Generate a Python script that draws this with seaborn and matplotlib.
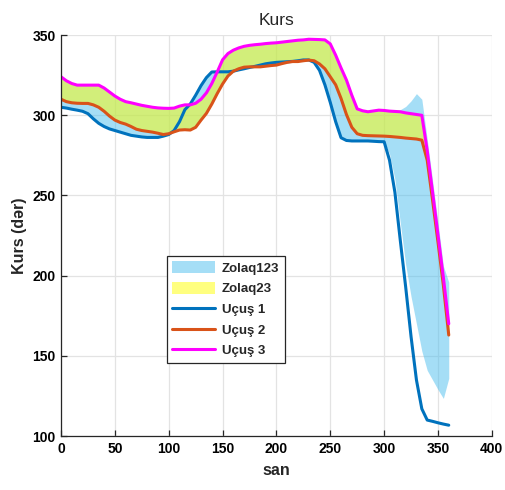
import numpy as np
import pandas as pd
import seaborn as sns
import matplotlib.pyplot as plt
from matplotlib.patches import Patch
from matplotlib.lines import Line2D

# sample times (san)
san = np.arange(0, 361, 5)

ucus1 = [305, 304.5, 303.8, 303.2, 302.5, 301, 297.8, 295, 293, 291.5,
         290.5, 289.5, 288.5, 287.5, 287, 286.5, 286.2, 286.2, 286.2, 287,
         288, 290.5, 296, 303.5, 307, 312.5, 318.5, 323.5, 327, 327.1,
         327.1, 327.1, 327.5, 328.3, 329, 329.8, 330.5, 331.3, 332.1, 332.6,
         333, 333.2, 333.4, 333.6, 334, 334.5, 334.5, 333, 328, 319,
         308, 296, 286, 284.3, 284, 284, 284, 284, 283.8, 283.6,
         283.5, 272, 252, 222, 193, 162, 135, 117, 110, 109.2,
         108.3, 107.5, 106.8]

ucus2 = [310, 308.5, 307.8, 307.5, 307.4, 307.4, 306.5, 305, 302.5, 299.5,
         297, 295.5, 294.5, 293, 291.3, 290.5, 290, 289.5, 288.8, 288,
         288.5, 289.7, 290.8, 291, 290.8, 292.5, 297, 301.2, 307, 313.5,
         319.5, 324.5, 327.5, 329, 330, 330.2, 330.2, 330.2, 330.6, 331,
         331.3, 332.2, 333, 333.5, 333.5, 334, 334.4, 334, 332, 329,
         324, 319, 310.5, 300.5, 292.5, 288.5, 287.5, 287.3, 287.2, 287.1,
         287, 286.8, 286.5, 286.2, 285.8, 285.5, 285.2, 284.5, 272, 247,
         221, 194, 163]

ucus3 = [324, 321.5, 319.8, 318.8, 318.8, 318.8, 318.8, 318.8, 317, 314.5,
         312, 310, 308.5, 307.8, 307, 306.2, 305.6, 305, 304.6, 304.4,
         304.3, 304.5, 305.7, 306.5, 306.5, 307.5, 310, 314, 319.8, 327,
         334.6, 338.5, 340.6, 342, 343, 343.6, 344, 344.3, 344.7, 345,
         345.2, 345.6, 346, 346.4, 346.8, 347, 347.4, 347.3, 347.2, 347,
         344.5, 337.5, 329.5, 322, 312.5, 304, 302.8, 302.2, 302.7, 303.2,
         303, 302.6, 302.4, 302.2, 301.5, 301, 300.5, 300, 278, 252,
         225.5, 199, 170]

# band 1-2-3 at the end (x >= 305) departs from min/max of the flights
tail_san = np.arange(305, 361, 5)
tail_lo = [276, 260, 233, 207, 187, 170, 153, 141, 135, 129, 123.5, 136]
tail_hi = [302.6, 302.4, 303.5, 305.5, 309, 313.5, 310, 285, 259, 233, 206, 196]

df = pd.DataFrame({"san": san, "u1": ucus1, "u2": ucus2, "u3": ucus3})
band_lo = np.minimum.reduce([df.u1, df.u2, df.u3])
band_hi = np.maximum.reduce([df.u1, df.u2, df.u3])
tail = df.san >= 305
band_lo[tail.values] = tail_lo
band_hi[tail.values] = tail_hi

sns.set_style("whitegrid")
plt.rcParams['font.family'] = ['Liberation Sans', 'DejaVu Sans']

c1, c2, c3 = '#0072BD', '#D95319', '#FF00FF'
cb = '#4DBEEE'
cy = '#FFFF00'

fig = plt.figure(figsize=(5.06, 4.90), dpi=100)
ax = fig.add_axes([0.1206, 0.110, 0.8514, 0.8184])

ax.fill_between(df.san, band_lo, band_hi, color=cb, alpha=0.5, linewidth=0)
ax.fill_between(df.san, df.u2, df.u3, color=cy, alpha=0.5, linewidth=0)
sns.lineplot(data=df, x="san", y="u1", color=c1, linewidth=2.2, ax=ax)
sns.lineplot(data=df, x="san", y="u2", color=c2, linewidth=2.2, ax=ax)
sns.lineplot(data=df, x="san", y="u3", color=c3, linewidth=2.2, ax=ax)

ax.set_xlim(0, 400)
ax.set_ylim(100, 350)
ax.set_xticks(range(0, 401, 50))
ax.set_yticks(range(100, 351, 50))
ax.grid(True, color='#e3e3e3', linewidth=0.9)
for s in ['top', 'right']:
    ax.spines[s].set_visible(False)
for s in ['left', 'bottom']:
    ax.spines[s].set_color('#262626')
    ax.spines[s].set_linewidth(0.9)
ax.tick_params(direction='in', length=4, width=0.9, colors='#262626',
               labelsize=10, left=True, bottom=True, pad=4)
for lbl in ax.get_xticklabels() + ax.get_yticklabels():
    lbl.set_fontweight('bold')
    lbl.set_color('black')

ax.set_title("Kurs", fontsize=12.5, pad=7)
ax.set_xlabel("san", fontsize=11.5, fontweight='bold', labelpad=5)
ax.set_ylabel("Kurs (dər)", fontsize=11.5, fontweight='bold', labelpad=4)

handles = [Patch(facecolor=cb, alpha=0.5, edgecolor='none'),
           Patch(facecolor=cy, alpha=0.5, edgecolor='none'),
           Line2D([], [], color=c1, linewidth=2.2),
           Line2D([], [], color=c2, linewidth=2.2),
           Line2D([], [], color=c3, linewidth=2.2)]
labels = ["Zolaq123", "Zolaq23", "Uçuş 1", "Uçuş 2", "Uçuş 3"]
leg = ax.legend(handles, labels, loc='upper left', bbox_to_anchor=(0.245, 0.449),
                borderaxespad=0, fancybox=False, framealpha=1, edgecolor='#262626',
                prop={'weight': 'bold', 'size': 9.5}, handlelength=3.3,
                handleheight=1.0, labelspacing=0.55, handletextpad=0.5,
                borderpad=0.4)
leg.get_frame().set_linewidth(0.9)

plt.savefig("out.png", dpi=100)
